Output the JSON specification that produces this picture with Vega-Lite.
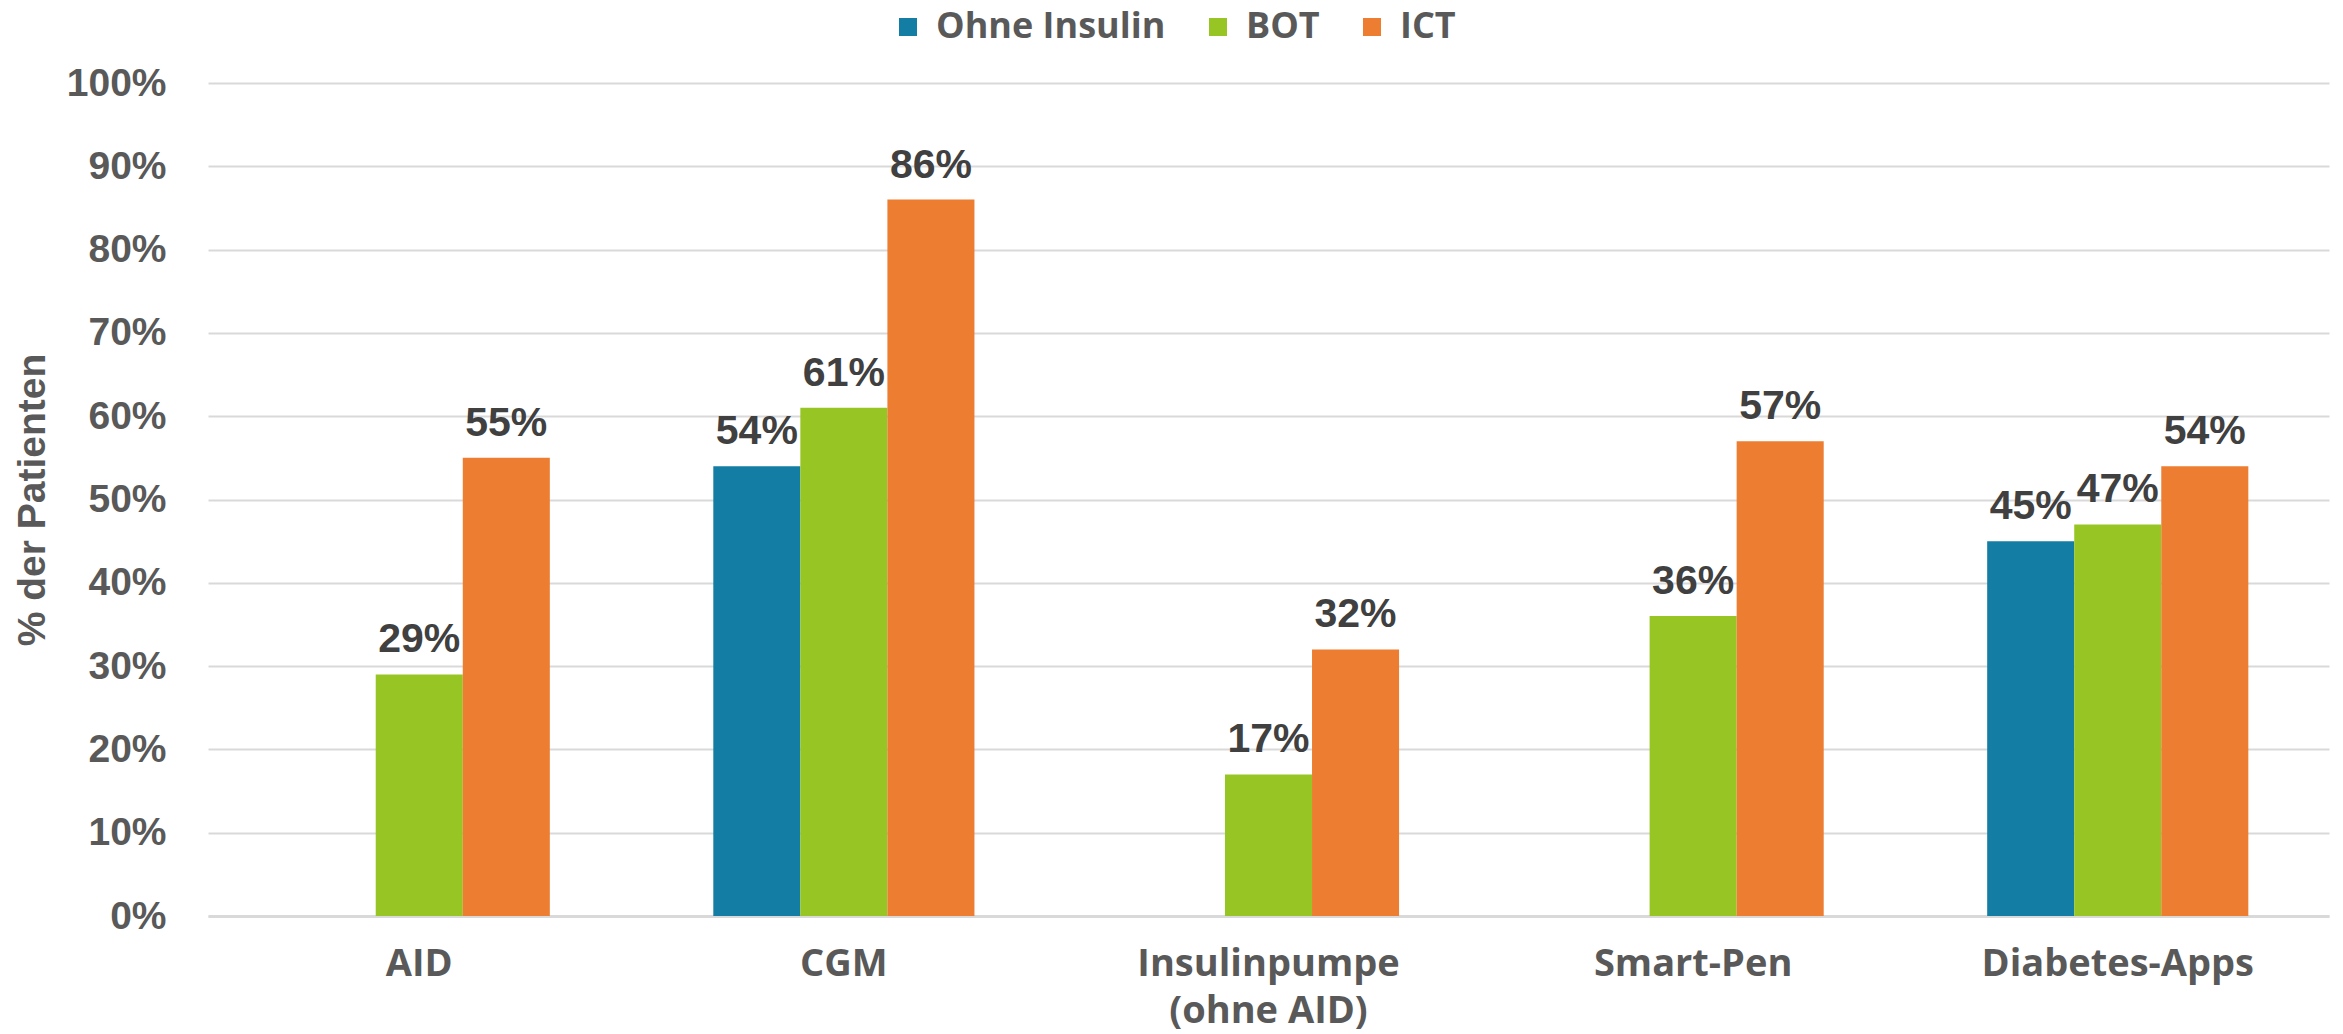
{
  "$schema": "https://vega.github.io/schema/vega-lite/v6.json",
  "width": 2121,
  "height": 833,
  "autosize": "none",
  "padding": {"left": 208, "top": 83, "right": 14, "bottom": 118},
  "background": "white",
  "data": {
    "values": [
      {"category": "AID", "series": "BOT", "value": 0.29},
      {"category": "AID", "series": "ICT", "value": 0.55},
      {"category": "CGM", "series": "Ohne Insulin", "value": 0.54},
      {"category": "CGM", "series": "BOT", "value": 0.61},
      {"category": "CGM", "series": "ICT", "value": 0.86},
      {"category": "Insulinpumpe (ohne AID)", "series": "BOT", "value": 0.17},
      {"category": "Insulinpumpe (ohne AID)", "series": "ICT", "value": 0.32},
      {"category": "Smart-Pen", "series": "BOT", "value": 0.36},
      {"category": "Smart-Pen", "series": "ICT", "value": 0.57},
      {"category": "Diabetes-Apps", "series": "Ohne Insulin", "value": 0.45},
      {"category": "Diabetes-Apps", "series": "BOT", "value": 0.47},
      {"category": "Diabetes-Apps", "series": "ICT", "value": 0.54}
    ]
  },
  "encoding": {
    "x": {
      "field": "category",
      "type": "nominal",
      "sort": ["AID", "CGM", "Insulinpumpe (ohne AID)", "Smart-Pen", "Diabetes-Apps"],
      "scale": {"paddingInner": 0.385, "paddingOuter": 0.19},
      "axis": {
        "title": null,
        "labelAngle": 0,
        "domain": true,
        "domainColor": "#D9D9D9",
        "domainWidth": 3,
        "ticks": false,
        "grid": false,
        "labelFont": "Open Sans",
        "labelFontWeight": "bold",
        "labelFontSize": 38,
        "labelColor": "#595959",
        "labelPadding": 29,
        "labelLineHeight": 47,
        "labelLimit": 0,
        "labelExpr": "datum.label == 'Insulinpumpe (ohne AID)' ? ['Insulinpumpe', '(ohne AID)'] : datum.label"
      }
    },
    "xOffset": {
      "field": "series",
      "type": "nominal",
      "scale": {"domain": ["Ohne Insulin", "BOT", "ICT"], "paddingInner": 0, "paddingOuter": 0}
    },
    "y": {
      "field": "value",
      "type": "quantitative",
      "scale": {"domain": [0, 1], "nice": false},
      "axis": {
        "values": [0, 0.1, 0.2, 0.3, 0.4, 0.5, 0.6, 0.7, 0.8, 0.9, 1],
        "format": ".0%",
        "grid": true,
        "gridColor": "#D9D9D9",
        "gridWidth": 2,
        "domain": false,
        "ticks": false,
        "labelFont": "Liberation Sans",
        "labelFontWeight": "bold",
        "labelFontSize": 39,
        "labelColor": "#595959",
        "labelPadding": 42,
        "title": "% der Patienten",
        "titleFont": "Liberation Sans",
        "titleFontWeight": "bold",
        "titleFontSize": 39,
        "titleColor": "#595959",
        "titlePadding": 14
      }
    }
  },
  "layer": [
    {
      "mark": {"type": "bar"},
      "encoding": {
        "color": {
          "field": "series",
          "type": "nominal",
          "scale": {"domain": ["Ohne Insulin", "BOT", "ICT"], "range": ["#137DA3", "#97C524", "#ED7D31"]},
          "legend": {
            "title": null,
            "orient": "none",
            "direction": "horizontal",
            "legendX": 682,
            "legendY": -74,
            "symbolType": "square",
            "symbolSize": 324,
            "symbolStrokeWidth": 0,
            "symbolOpacity": 1,
            "labelFont": "Open Sans",
            "labelFontWeight": "bold",
            "labelFontSize": 36,
            "labelColor": "#595959",
            "labelOffset": 10,
            "labelLimit": 0,
            "columnPadding": 34
          }
        }
      }
    },
    {
      "mark": {
        "type": "text",
        "baseline": "alphabetic",
        "dy": -22,
        "font": "Liberation Sans",
        "fontWeight": "bold",
        "fontSize": 41,
        "color": "#404040"
      },
      "encoding": {
        "text": {"field": "value", "type": "quantitative", "format": ".0%"}
      }
    }
  ],
  "config": {"view": {"stroke": null}}
}
